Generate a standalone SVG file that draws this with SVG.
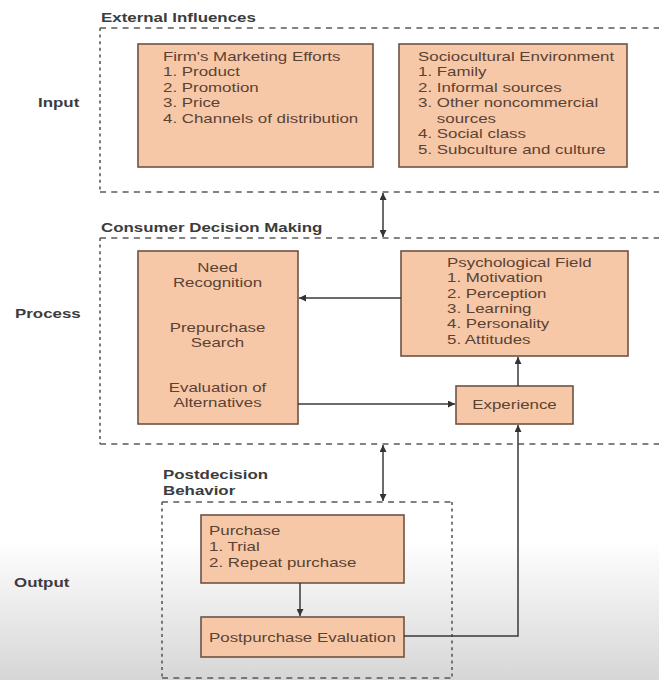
<svg xmlns="http://www.w3.org/2000/svg" width="659" height="680" viewBox="0 0 659 680">
<defs>
<linearGradient id="bg" x1="0" y1="0" x2="0" y2="1">
<stop offset="0" stop-color="#ffffff"/>
<stop offset="1" stop-color="#d6d6d6"/>
</linearGradient>
<marker id="ah" viewBox="0 0 10 10" refX="10" refY="5" markerWidth="7" markerHeight="7" markerUnits="userSpaceOnUse" orient="auto-start-reverse">
<path d="M0,0 L10,5 L0,10 z" fill="#333"/>
</marker>
<style>
.box{fill:#f7c8a7;stroke:#6e5344;stroke-width:1.6}
.hd{stroke:#5a5a5a;stroke-width:1.6;stroke-dasharray:6 5.3;fill:none}
.vd{stroke:#5a5a5a;stroke-width:1.6;stroke-dasharray:3 3.6;fill:none}
.t{font-family:"Liberation Sans",Arial,sans-serif;font-size:13px;fill:#5a4234}
.c{text-anchor:middle}
.b{font-family:"Liberation Sans",Arial,sans-serif;font-size:13px;font-weight:bold;fill:#3c3c3c}
.cn{stroke:#3a3a3a;stroke-width:1.5;fill:none}
</style>
</defs>
<rect x="0" y="0" width="659" height="680" fill="#ffffff"/>
<rect x="0" y="540" width="659" height="140" fill="url(#bg)"/>

<g id="side-labels">
<g transform="matrix(1.3 0 0 1 38 0)"><text class="b" x="0" y="107">Input</text></g>
<g transform="matrix(1.3 0 0 1 15 0)"><text class="b" x="0" y="318">Process</text></g>
<g transform="matrix(1.3 0 0 1 14 0)"><text class="b" x="0" y="587">Output</text></g>
</g>

<g id="external-influences">
<line class="hd" x1="100" y1="28" x2="659" y2="28"/>
<line class="hd" x1="100" y1="192" x2="659" y2="192"/>
<line class="vd" x1="100" y1="28" x2="100" y2="192"/>
<g transform="matrix(1.3 0 0 1 101 0)"><text class="b" x="0" y="22">External Influences</text></g>
</g>

<g id="consumer-decision-making">
<line class="hd" x1="100" y1="238" x2="659" y2="238"/>
<line class="hd" x1="100" y1="444" x2="659" y2="444"/>
<line class="vd" x1="100" y1="238" x2="100" y2="444"/>
<g transform="matrix(1.3 0 0 1 101 0)"><text class="b" x="0" y="232">Consumer Decision Making</text></g>
</g>

<g id="postdecision-behavior">
<line class="hd" x1="162" y1="502" x2="452" y2="502"/>
<line class="hd" x1="162" y1="678" x2="452" y2="678"/>
<line class="vd" x1="162" y1="502" x2="162" y2="678"/>
<line class="vd" x1="452" y1="502" x2="452" y2="678"/>
<g transform="matrix(1.3 0 0 1 163 0)"><text class="b" x="0" y="479">Postdecision</text><text class="b" x="0" y="495">Behavior</text></g>
</g>

<g id="firm-marketing">
<rect class="box" x="138" y="44" width="235" height="123"/>
<g transform="matrix(1.3 0 0 1 163 0)">
<text class="t" x="0" y="61">Firm's Marketing Efforts</text>
<text class="t" x="0" y="76.5">1. Product</text>
<text class="t" x="0" y="92">2. Promotion</text>
<text class="t" x="0" y="107.5">3. Price</text>
<text class="t" x="0" y="123">4. Channels of distribution</text>
</g>
</g>

<g id="sociocultural">
<rect class="box" x="399" y="44" width="228" height="123"/>
<g transform="matrix(1.3 0 0 1 418 0)">
<text class="t" x="0" y="61">Sociocultural Environment</text>
<text class="t" x="0" y="76.5">1. Family</text>
<text class="t" x="0" y="92">2. Informal sources</text>
<text class="t" x="0" y="107.5">3. Other noncommercial</text>
<text class="t" x="14.5" y="123">sources</text>
<text class="t" x="0" y="138.5">4. Social class</text>
<text class="t" x="0" y="154">5. Subculture and culture</text>
</g>
</g>

<g id="decision-stages">
<rect class="box" x="138" y="251" width="160" height="173"/>
<g transform="matrix(1.3 0 0 1 217.5 0)">
<text class="t c" x="0" y="272">Need</text>
<text class="t c" x="0" y="287">Recognition</text>
<text class="t c" x="0" y="332">Prepurchase</text>
<text class="t c" x="0" y="347">Search</text>
<text class="t c" x="0" y="392">Evaluation of</text>
<text class="t c" x="0" y="407">Alternatives</text>
</g>
</g>

<g id="psychological-field">
<rect class="box" x="401" y="251" width="227" height="105"/>
<g transform="matrix(1.3 0 0 1 447 0)">
<text class="t" x="0" y="267">Psychological Field</text>
<text class="t" x="0" y="282.5">1. Motivation</text>
<text class="t" x="0" y="298">2. Perception</text>
<text class="t" x="0" y="313">3. Learning</text>
<text class="t" x="0" y="328.5">4. Personality</text>
<text class="t" x="0" y="344">5. Attitudes</text>
</g>
</g>

<g id="experience">
<rect class="box" x="456" y="386" width="117" height="38"/>
<g transform="matrix(1.3 0 0 1 514.5 0)"><text class="t c" x="0" y="409">Experience</text></g>
</g>

<g id="purchase">
<rect class="box" x="201" y="515" width="203" height="68"/>
<g transform="matrix(1.3 0 0 1 209 0)">
<text class="t" x="0" y="535">Purchase</text>
<text class="t" x="0" y="551">1. Trial</text>
<text class="t" x="0" y="567">2. Repeat purchase</text>
</g>
</g>

<g id="postpurchase-evaluation">
<rect class="box" x="201" y="617" width="203" height="40"/>
<g transform="matrix(1.3 0 0 1 209 0)"><text class="t" x="0" y="642">Postpurchase Evaluation</text></g>
</g>

<g id="connectors">
<line class="cn" x1="383" y1="193" x2="383" y2="237" marker-start="url(#ah)" marker-end="url(#ah)"/>
<line class="cn" x1="383" y1="445" x2="383" y2="501" marker-start="url(#ah)" marker-end="url(#ah)"/>
<line class="cn" x1="401" y1="298" x2="299" y2="298" marker-end="url(#ah)"/>
<line class="cn" x1="298" y1="404" x2="455" y2="404" marker-end="url(#ah)"/>
<line class="cn" x1="518" y1="386" x2="518" y2="357" marker-end="url(#ah)"/>
<line class="cn" x1="300" y1="583" x2="300" y2="616" marker-end="url(#ah)"/>
<polyline class="cn" points="404,636 518,636 518,425" marker-end="url(#ah)"/>
</g>
</svg>
